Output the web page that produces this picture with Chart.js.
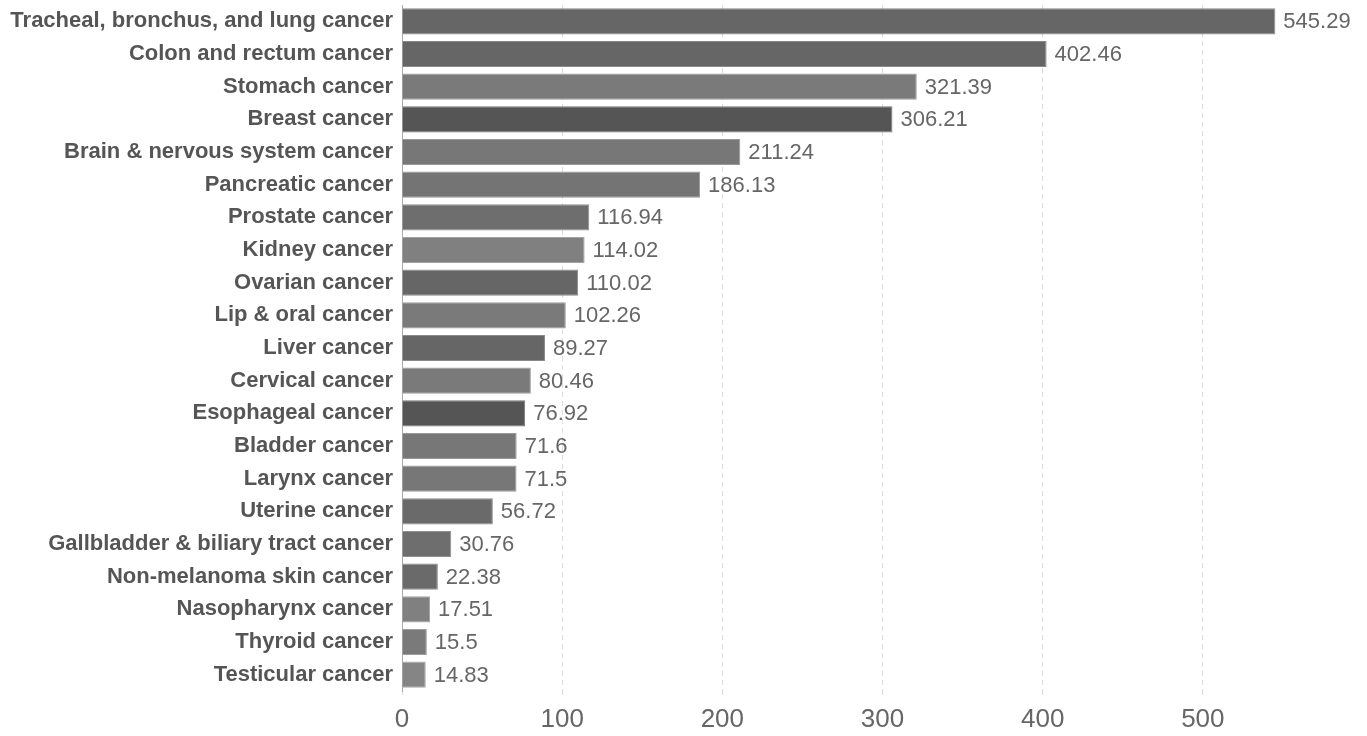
<!DOCTYPE html>
<html>
<head>
<meta charset="utf-8">
<script src="https://cdn.jsdelivr.net/npm/chart.js@4/dist/chart.umd.min.js"></script>
<style>
html,body{margin:0;padding:0;background:#fff;}
#wrap{width:1367px;height:736px;position:relative;}
</style>
</head>
<body>
<div id="wrap"><canvas id="c"></canvas></div>
<script>
const categories = [
  "Tracheal, bronchus, and lung cancer","Colon and rectum cancer","Stomach cancer","Breast cancer",
  "Brain & nervous system cancer","Pancreatic cancer","Prostate cancer","Kidney cancer","Ovarian cancer",
  "Lip & oral cancer","Liver cancer","Cervical cancer","Esophageal cancer","Bladder cancer","Larynx cancer",
  "Uterine cancer","Gallbladder & biliary tract cancer","Non-melanoma skin cancer","Nasopharynx cancer",
  "Thyroid cancer","Testicular cancer"
];
const values = [545.29,402.46,321.39,306.21,211.24,186.13,116.94,114.02,110.02,102.26,89.27,80.46,76.92,71.6,71.5,56.72,30.76,22.38,17.51,15.5,14.83];
const barColors = ["#666666","#666666","#7a7a7a","#555555","#777777","#747474","#6e6e6e","#808080","#666666","#7a7a7a","#666666","#7a7a7a","#555555","#777777","#777777","#6a6a6a","#6e6e6e","#6a6a6a","#808080","#7a7a7a","#858585"];
const xTicks = [0,100,200,300,400,500];

function lighten(hex, amt){
  const n=parseInt(hex.slice(1),16);
  const r=Math.min(255,((n>>16)&255)+amt),g=Math.min(255,((n>>8)&255)+amt),b=Math.min(255,(n&255)+amt);
  return `rgb(${r},${g},${b})`;
}

const valueLabels = {
  id:'valueLabels',
  afterDatasetsDraw(chart){
    const ctx=chart.ctx;
    const meta=chart.getDatasetMeta(0);
    ctx.save();
    ctx.font='22px "Liberation Sans", Arial, sans-serif';
    ctx.fillStyle='#666666';
    ctx.textAlign='left';
    ctx.textBaseline='middle';
    meta.data.forEach((bar,i)=>{
      ctx.fillText(String(values[i]), bar.x+8, bar.y+1);
    });
    ctx.restore();
  }
};

new Chart(document.getElementById('c'),{
  type:'bar',
  data:{
    labels:categories,
    datasets:[{
      data:values,
      backgroundColor:barColors,
      borderColor:barColors.map(c=>lighten(c,35)),
      borderWidth:1,
      categoryPercentage:0.8,
      barPercentage:1.0
    }]
  },
  options:{
    indexAxis:'y',
    responsive:true,
    maintainAspectRatio:false,
    animation:false,
    layout:{padding:{left:10,right:4,top:5,bottom:0}},
    plugins:{legend:{display:false},tooltip:{enabled:false}},
    scales:{
      x:{
        min:0,max:600,
        afterBuildTicks(axis){ axis.ticks = xTicks.map(v=>({value:v})); },
        afterFit(scale){ scale.height = 45; scale.paddingLeft = 0; scale.paddingRight = 0; },
        grid:{color:'#dddddd',lineWidth:1,drawTicks:true,tickLength:4,tickColor:'#dddddd'},
        border:{display:false,dash:[5,4]},
        ticks:{color:'#666666',font:{family:'"Liberation Sans", Arial, sans-serif',size:26},padding:9}
      },
      y:{
        afterFit(scale){ scale.width = 392; scale.paddingTop = 0; scale.paddingBottom = 0; },
        grid:{display:false,drawTicks:false},
        border:{display:true,color:'#aaaaaa',width:1},
        ticks:{color:'#555555',font:{family:'"Liberation Sans", Arial, sans-serif',size:22,weight:'bold'},padding:9}
      }
    }
  },
  plugins:[valueLabels]
});
</script>
</body>
</html>
